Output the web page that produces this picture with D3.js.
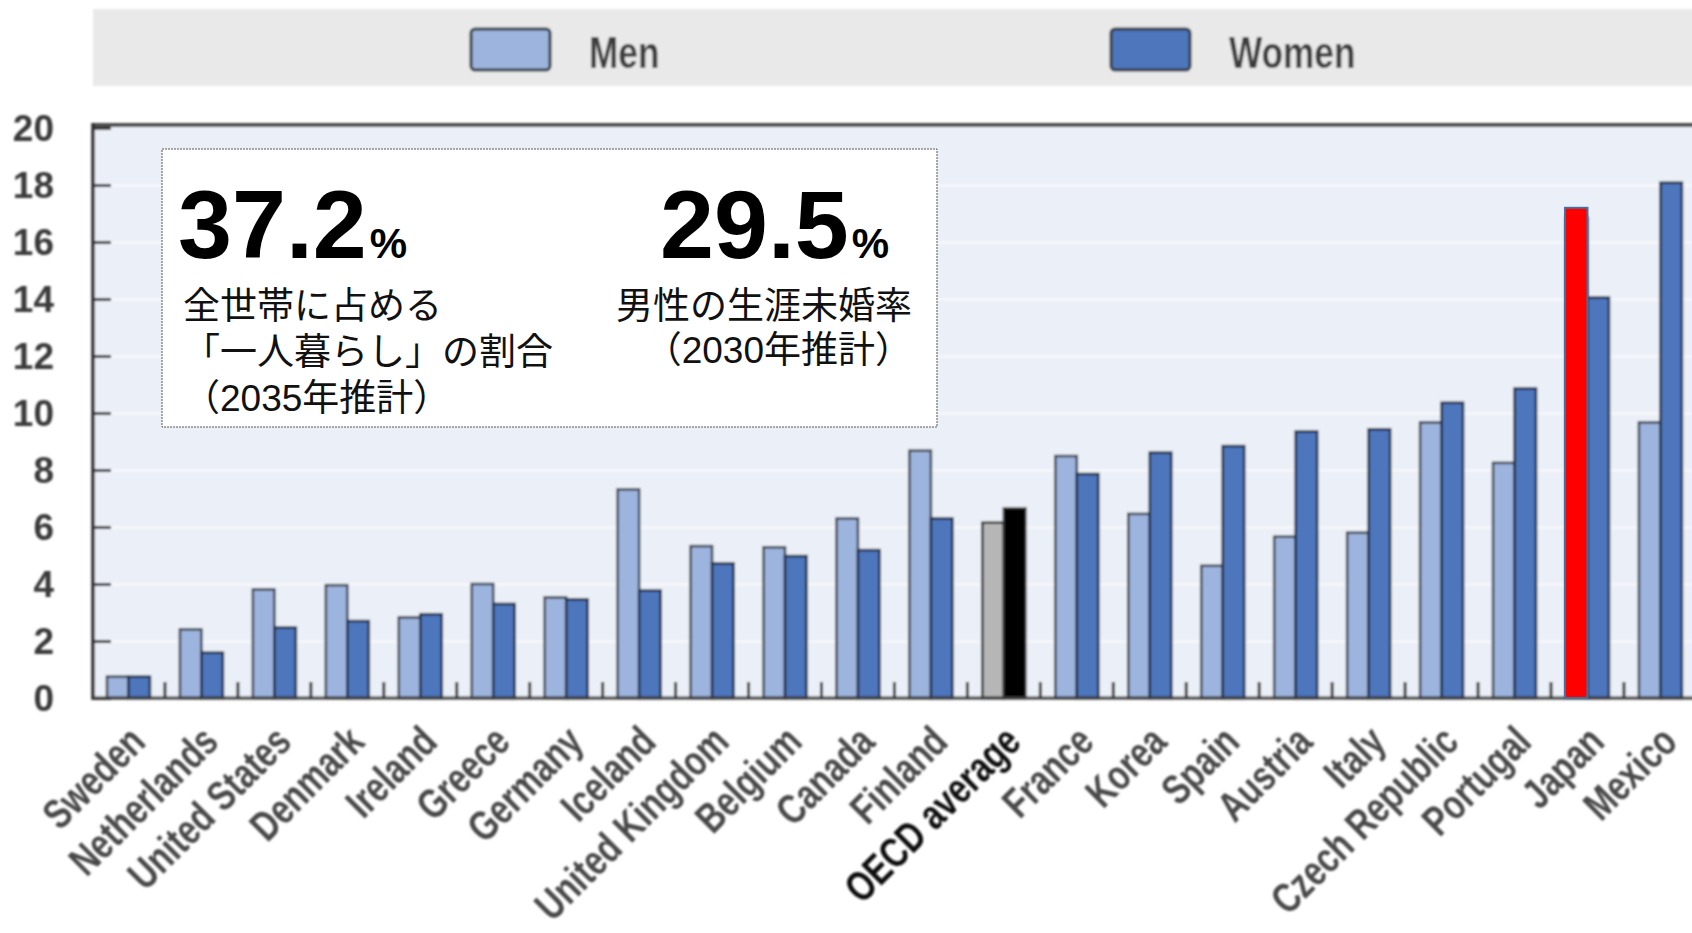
<!DOCTYPE html>
<html>
<head>
<meta charset="utf-8">
<script src="https://cdn.jsdelivr.net/npm/d3@7"></script>
<style>
  html, body { margin: 0; padding: 0; background: #ffffff; overflow: hidden; }
  svg { display: block; }
</style>
</head>
<body>
<svg id="chart" width="1692" height="933"></svg>
<script>
// Share of people living alone by country, men and women (%)
const countries = ["Sweden", "Netherlands", "United States", "Denmark", "Ireland", "Greece", "Germany",
  "Iceland", "United Kingdom", "Belgium", "Canada", "Finland", "OECD average", "France", "Korea",
  "Spain", "Austria", "Italy", "Czech Republic", "Portugal", "Japan", "Mexico"];
const menValues   = [0.75, 2.41, 3.81, 3.96, 2.83, 4.0, 3.53, 7.32, 5.33, 5.29, 6.3, 8.68, 6.15, 8.49, 6.46,
  4.64, 5.66, 5.8, 9.67, 8.25, 16.85, 9.67];
const womenValues = [0.75, 1.59, 2.47, 2.70, 2.94, 3.3, 3.46, 3.77, 4.72, 4.98, 5.19, 6.3, 6.65, 7.86, 8.61,
  8.84, 9.35, 9.43, 10.36, 10.86, 14.05, 18.08];
const seriesNames = ["Men", "Women"];
const yTicks = [0, 2, 4, 6, 8, 10, 12, 14, 16, 18, 20];
const averageCountry = "OECD average";
const highlightCountry = "Japan";
const highlightValue = 17.2;
const calloutNumbers = ["37.2", "29.5"];
const calloutLeftLines = ["全世帯に占める", "「一人暮らし」の割合", "（2035年推計）"];
const calloutRightLines = ["男性の生涯未婚率", "（2030年推計）"];

const W = 1692, H = 933;
const plotLeft = 93, plotTop = 125, axisY = 698;
const step = 72.95;

const svg = d3.select("#chart");
const defs = svg.append("defs");
defs.append("filter").attr("id", "soft")
  .attr("x", "-5%").attr("y", "-5%").attr("width", "110%").attr("height", "110%")
  .append("feGaussianBlur").attr("stdDeviation", 0.8);

const x = d3.scaleBand().domain(countries).range([92, 92 + step * countries.length]).padding(0);
const y = d3.scaleLinear().domain([0, 20]).range([axisY, 128]);
const xs = d3.scaleBand().domain(seriesNames).range([0, 43]).padding(0);

const fills = { Men: "#9db4de", Women: "#4e76bd" };
const strokes = { Men: "#3b4250", Women: "#1d2a44" };
const avgFills = { Men: "#b6b6b6", Women: "#000000" };
const latin = "Liberation Sans, Arial, sans-serif";

const chart = svg.append("g").attr("filter", "url(#soft)");

// legend band
chart.append("rect").attr("x", plotLeft).attr("y", 9).attr("width", W - plotLeft + 10).attr("height", 77)
  .attr("fill", "#e9e9e9");
const legendPos = { Men: { sx: 471, tx: 589 }, Women: { sx: 1111, tx: 1229 } };
seriesNames.forEach(s => {
  chart.append("rect").attr("x", legendPos[s].sx).attr("y", 29).attr("width", 79).attr("height", 41)
    .attr("rx", 4).attr("fill", fills[s]).attr("stroke", "#333a44").attr("stroke-width", 3);
  chart.append("text").attr("transform", `translate(${legendPos[s].tx},68) scale(0.8,1)`)
    .attr("font-family", latin).attr("font-weight", "bold")
    .attr("font-size", 44).attr("fill", "#3c3c3c").text(s);
});

// plot background
chart.append("rect").attr("x", plotLeft).attr("y", plotTop).attr("width", W - plotLeft + 10)
  .attr("height", axisY - plotTop).attr("fill", "#ebeff7");

// gridlines
chart.append("g").attr("transform", `translate(${plotLeft},0)`)
  .call(d3.axisLeft(y).tickValues(yTicks.slice(1, -1)).tickSize(-(W - plotLeft)).tickFormat(""))
  .call(g => g.select(".domain").remove())
  .call(g => g.selectAll("line").attr("stroke", "#f4f6fa").attr("stroke-width", 3));

// y axis: inner ticks and labels
chart.append("g").attr("transform", `translate(${plotLeft},0)`)
  .call(d3.axisLeft(y).tickValues(yTicks).tickSize(-18).tickPadding(39))
  .call(g => g.select(".domain").remove())
  .call(g => g.selectAll("line").attr("stroke", "#333").attr("stroke-width", 3))
  .call(g => g.selectAll("text")
    .attr("font-family", latin).attr("font-weight", "bold")
    .attr("font-size", 37).attr("fill", "#3a3a3a").attr("dy", "0.33em"));

// bars
const groups = countries.map((c, i) => ({ country: c, Men: menValues[i], Women: womenValues[i] }));
const gBars = chart.append("g").selectAll("g").data(groups).join("g")
  .attr("transform", d => `translate(${x(d.country) + (x.bandwidth() - 43) / 2},0)`);
gBars.selectAll("rect").data(d => seriesNames.map(s => ({ s, v: d[s], avg: d.country === averageCountry })))
  .join("rect")
  .attr("x", d => xs(d.s))
  .attr("width", xs.bandwidth())
  .attr("y", d => y(d.v))
  .attr("height", d => y(0) - y(d.v))
  .attr("fill", d => d.avg ? avgFills[d.s] : fills[d.s])
  .attr("stroke", d => d.avg ? "#2a2a2a" : strokes[d.s])
  .attr("stroke-width", 2.5);

// tick marks between country groups
chart.append("g").selectAll("line").data(countries.slice(0, -1)).join("line")
  .attr("x1", d => x(d) + x.step()).attr("x2", d => x(d) + x.step())
  .attr("y1", axisY).attr("y2", axisY - 16)
  .attr("stroke", "#333").attr("stroke-width", 3);

// frame lines
chart.append("line").attr("x1", plotLeft).attr("x2", W + 10).attr("y1", plotTop).attr("y2", plotTop)
  .attr("stroke", "#4d4d4d").attr("stroke-width", 4);
chart.append("line").attr("x1", plotLeft).attr("x2", plotLeft).attr("y1", plotTop - 2).attr("y2", axisY + 2)
  .attr("stroke", "#2e2e2e").attr("stroke-width", 3.5);
chart.append("line").attr("x1", plotLeft).attr("x2", W + 10).attr("y1", axisY).attr("y2", axisY)
  .attr("stroke", "#3a3a3a").attr("stroke-width", 3);

// country labels
chart.append("g").attr("transform", `translate(0,${axisY})`)
  .call(d3.axisBottom(x).tickSize(0).tickPadding(0))
  .call(g => g.select(".domain").remove())
  .call(g => g.selectAll("text")
    .attr("x", 0).attr("y", 0).attr("dy", 0)
    .attr("text-anchor", "end")
    .attr("transform", "translate(19,46) rotate(-45) scale(0.78,1)")
    .attr("font-family", latin)
    .attr("font-weight", "bold")
    .attr("font-size", 42)
    .attr("fill", d => d === averageCountry ? "#111" : "#4a4a4a"));

// highlighted bar for Japan (men)
const hx = x(highlightCountry) + (x.bandwidth() - 43) / 2 + xs("Men");
svg.append("rect")
  .attr("x", hx - 1).attr("width", xs.bandwidth() + 1)
  .attr("y", y(highlightValue)).attr("height", y(0) - y(highlightValue))
  .attr("fill", "#ff0000").attr("stroke", "#41719c").attr("stroke-width", 2);

// callout box
const box = svg.append("g");
box.append("rect").attr("x", 162).attr("y", 149).attr("width", 775).attr("height", 278)
  .attr("fill", "#ffffff").attr("stroke", "#555").attr("stroke-width", 1).attr("stroke-dasharray", "2,1");

// caption lines: Latin font first keeps the line box compact, kana/kanji fall back to Noto CJK
const captionFont = "'Liberation Sans', 'Noto Sans CJK JP', sans-serif";
// each callout column is one text block: big figure, then the caption lines
const callout = (numX, num, lines, lineX, anchor, lineGap) => {
  const t = box.append("text").attr("fill", "#000");
  t.append("tspan").attr("x", numX).attr("y", 258)
    .attr("font-family", latin).attr("font-weight", "bold").attr("font-size", 97).text(num);
  t.append("tspan").attr("dx", 3)
    .attr("font-family", latin).attr("font-weight", "bold").attr("font-size", 42).text("%");
  lines.forEach((line, i) => {
    t.append("tspan").attr("x", lineX).attr("y", 319 + i * lineGap)
      .attr("text-anchor", anchor)
      .attr("font-family", captionFont).attr("font-size", 37).attr("fill", "#111").text(line);
  });
};
callout(178, calloutNumbers[0], calloutLeftLines, 183, "start", 46);
callout(660, calloutNumbers[1], calloutRightLines, 912, "end", 44);
</script>
</body>
</html>
